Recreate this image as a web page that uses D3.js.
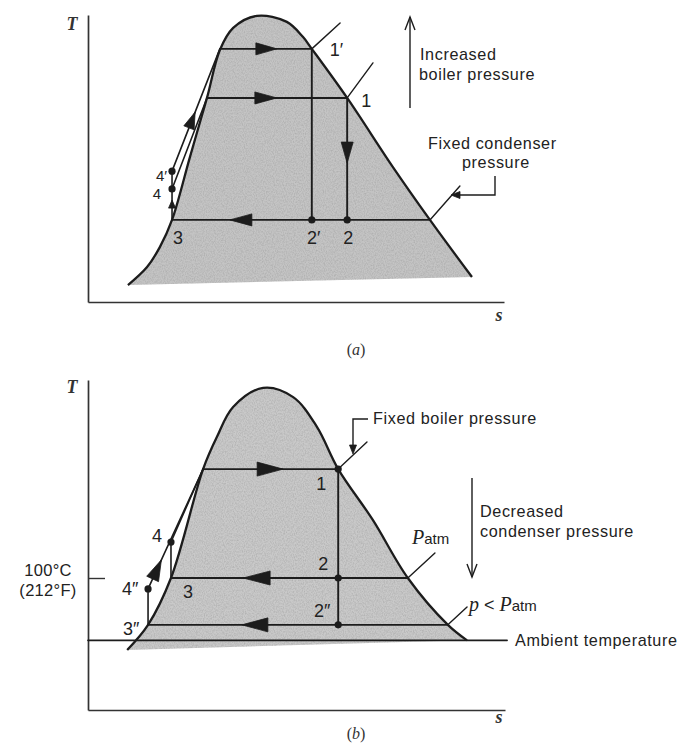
<!DOCTYPE html>
<html><head><meta charset="utf-8">
<script src="https://cdn.jsdelivr.net/npm/d3@7"></script>
<style>body{margin:0;background:#fff} svg{display:block}</style>
</head><body>
<svg id="c" width="691" height="745"></svg>
<script>
// ================= DATA =================
// Panel (a): saturation dome (entropy s, temperature T, arbitrary units 0-10)
const domeA_s = [0.96,1.42,1.73,2.02,2.45,2.86,3.17,3.49,4.06,4.78,5.17,5.38,6.23,7.33,8.22,9.23];
const domeA_T = [0.59,1.22,1.92,2.86,5.05,7.11,8.78,9.55,9.97,9.76,9.23,8.82,7.11,4.70,2.86,0.87];
// Panel (a) state values
const A_T = {cond: 2.86, boil: 7.11, boilHi: 8.82, p4: 3.94, p4p: 4.56};
const A_S = {s3: 2.02, s1: 6.23, s1p: 5.38, sf: 2.86, sfHi: 3.17, sgCond: 8.22};
// isobar continuations beyond the dome [s0,T0,s1,T1]
const A_iso = [[5.38,8.82,6.06,9.72],[6.23,7.11,6.85,8.33],[8.22,2.86,8.94,4.04]];

// Panel (b): saturation dome
const domeB_s = [0.94,1.44,1.99,2.76,3.09,3.48,4.20,4.92,5.49,6.00,6.83,7.67,8.63,9.09];
const domeB_T = [1.82,2.58,4.00,7.30,8.27,9.18,9.76,9.48,8.58,7.30,5.76,4.00,2.58,2.11];
const B_T = {boil: 7.30, atm: 4.00, low: 2.58, amb: 2.11, p4: 5.09, p4pp: 3.67};
const B_S = {s1: 6.00, sf: 2.76, s3: 1.99, s3pp: 1.44, sgAtm: 7.67, sgLow: 8.63};
const B_iso = [[6.00,7.30,6.69,8.12],[7.67,4.00,8.32,4.76],[8.63,2.58,9.09,3.12]];
const B_tickLabels = ["100\u00B0C","(212\u00B0F)"];

// ================= DRAW =================
const svg = d3.select("#c");
const INK = "#1c1c1c";
const SANS = "'Liberation Sans', Arial, sans-serif";
const SERIF = "'Liberation Serif', 'Times New Roman', serif";

const defs = svg.append("defs");
const f = defs.append("filter").attr("id","grain").attr("x",0).attr("y",0).attr("width",1).attr("height",1);
f.append("feTurbulence").attr("type","fractalNoise").attr("baseFrequency","0.9 0.6").attr("numOctaves",2).attr("seed",7).attr("result","n");
f.append("feColorMatrix").attr("in","n").attr("type","matrix")
  .attr("values","0 0 0 0 0.3  0 0 0 0 0.3  0 0 0 0 0.3  0.9 0 0 0 -0.33").attr("result","g");
f.append("feComposite").attr("in","g").attr("in2","SourceGraphic").attr("operator","in");

function arrowHead(g, tip, from, len, hw) {
  const dx = tip[0]-from[0], dy = tip[1]-from[1], L = Math.hypot(dx,dy);
  const ux = dx/L, uy = dy/L;
  const b = [tip[0]-ux*len, tip[1]-uy*len];
  const p1 = [b[0]-uy*hw, b[1]+ux*hw], p2 = [b[0]+uy*hw, b[1]-ux*hw];
  g.append("path").attr("d", `M${tip}L${p1}L${p2}Z`).attr("fill", INK).attr("stroke", INK).attr("stroke-width",0.8).attr("stroke-linejoin","round");
}
function openArrow(g, x, y1, y2) {
  g.append("line").attr("x1",x).attr("x2",x).attr("y1",y1).attr("y2",y2).attr("stroke",INK).attr("stroke-width",1.4);
  const d = y2 < y1 ? 1 : -1;
  g.append("path").attr("d",`M${x-5},${y2+d*13}L${x},${y2}L${x+5},${y2+d*13}`).attr("fill","none").attr("stroke",INK).attr("stroke-width",1.4);
}
function seg(g, x, y, a, b, w) {
  g.append("line").attr("x1",x(a[0])).attr("y1",y(a[1])).attr("x2",x(b[0])).attr("y2",y(b[1]))
   .attr("stroke",INK).attr("stroke-width",w||1.9).attr("stroke-linecap","round");
}
function dot(g, x, y, p, r) { g.append("circle").attr("cx",x(p[0])).attr("cy",y(p[1])).attr("r",r||3.6).attr("fill",INK); }
function label(g, px, py, txt, anchor, size, ls) {
  return g.append("text").attr("x",px).attr("y",py).attr("text-anchor",anchor||"middle")
    .attr("font-family",SANS).attr("font-size",size||18).attr("letter-spacing",ls||0).attr("fill","#222").text(txt);
}
function drawDome(g, x, y, ss, ts, fill) {
  const pts = ss.map((s,i)=>[s, ts[i]]);
  const line = d3.line().x(d=>x(d[0])).y(d=>y(d[1])).curve(d3.curveCatmullRom.alpha(0.5));
  g.append("path").attr("d", line(pts)+"Z").attr("fill", fill);
  g.append("path").attr("d", line(pts)+"Z").attr("fill", "#000").attr("filter","url(#grain)");
  g.append("path").attr("d", line(pts)).attr("fill","none").attr("stroke",INK).attr("stroke-width",2.3);
}
function axes(g, x, y) {
  const ax = g.append("g").attr("transform",`translate(0,${y(0)})`).call(d3.axisBottom(x).tickValues([]).tickSizeOuter(0));
  const ay = g.append("g").attr("transform",`translate(${x(0)},0)`).call(d3.axisLeft(y).tickValues([]).tickSizeOuter(0));
  [ax,ay].forEach(a=>a.select(".domain").attr("stroke","#333").attr("stroke-width",1.7));
  return ay;
}
function italic(g, px, py, t) {
  g.append("text").attr("x",px).attr("y",py).attr("text-anchor","middle").attr("font-family",SERIF)
   .attr("font-style","italic").attr("font-weight","bold").attr("font-size",18).attr("fill","#333").text(t);
}
const ANN = 16.2, ANN_LS = 0.6;

// ---------- Panel (a) ----------
{
  const x = d3.scaleLinear().domain([0,10]).range([88,504]);
  const y = d3.scaleLinear().domain([0,10]).range([302,15]);
  const g = svg.append("g");
  drawDome(g, x, y, domeA_s, domeA_T, "#c4c4c4");
  axes(g, x, y);
  italic(g, 72, 30, "T");
  italic(g, 499, 321, "s");

  const P1p = [A_S.s1p, A_T.boilHi], P1 = [A_S.s1, A_T.boil];
  const Fhi = [A_S.sfHi, A_T.boilHi], F = [A_S.sf, A_T.boil];
  const P3 = [A_S.s3, A_T.cond], G = [A_S.sgCond, A_T.cond];
  const P2 = [A_S.s1, A_T.cond], P2p = [A_S.s1p, A_T.cond];
  const P4 = [A_S.s3, A_T.p4], P4p = [A_S.s3, A_T.p4p];

  seg(g,x,y,Fhi,P1p); seg(g,x,y,F,P1); seg(g,x,y,G,P3);
  seg(g,x,y,P1p,P2p); seg(g,x,y,P1,P2);
  seg(g,x,y,P3,P4p,1.6); seg(g,x,y,P4,F,1.6); seg(g,x,y,P4p,Fhi,1.6);
  A_iso.forEach(d=>seg(g,x,y,[d[0],d[1]],[d[2],d[3]],1.4));

  arrowHead(g,[x(4.54),y(A_T.boilHi)],[x(3.5),y(A_T.boilHi)],21,6);
  arrowHead(g,[x(4.54),y(A_T.boil)],[x(3.5),y(A_T.boil)],22,6);
  arrowHead(g,[x(3.41),y(A_T.cond)],[x(5),y(A_T.cond)],22,6);
  arrowHead(g,[x(A_S.s1),y(4.84)],[x(A_S.s1),y(6)],21,6);
  {
    const t = (6.62-A_T.p4p)/(A_T.boilHi-A_T.p4p);
    const ts = A_S.s3 + t*(A_S.sfHi-A_S.s3);
    arrowHead(g,[x(ts),y(6.62)],[x(A_S.s3),y(A_T.p4p)],17,5.5);
  }
  arrowHead(g,[x(A_S.s3),y(3.55)],[x(A_S.s3),y(A_T.cond)],8,3.5);

  [P2p,P2,P4,P4p].forEach(p=>dot(g,x,y,p));

  label(g, x(A_S.s1p)+18, y(A_T.boilHi)+7, "1\u2032","start");
  label(g, x(A_S.s1)+14, y(A_T.boil)+9, "1","start");
  label(g, x(A_S.s1p)+2, y(A_T.cond)+24, "2\u2032");
  label(g, x(A_S.s1)+1, y(A_T.cond)+24, "2");
  label(g, x(A_S.s3)+6, y(A_T.cond)+24, "3");
  label(g, x(A_S.s3)-5, y(A_T.p4p)+10, "4\u2032","end",15);
  label(g, x(A_S.s3)-11, y(A_T.p4)+10, "4","end",15);

  openArrow(g, 410, 108, 17);
  label(g, 420, 60, "Increased","start",ANN,ANN_LS);
  label(g, 419, 79.5, "boiler pressure","start",ANN,ANN_LS);
  label(g, 428, 148.5, "Fixed condenser","start",ANN,ANN_LS);
  label(g, 462, 168, "pressure","start",ANN,ANN_LS);
  g.append("path").attr("d","M495,176V195H456").attr("fill","none").attr("stroke",INK).attr("stroke-width",1.4);
  arrowHead(g,[451,195],[470,195],9,3.5);

  g.append("text").attr("x",356).attr("y",355).attr("text-anchor","middle").attr("font-family",SERIF)
   .attr("font-size",16).attr("fill","#333")
   .html('(<tspan font-style="italic">a</tspan>)');
}

// ---------- Panel (b) ----------
{
  const x = d3.scaleLinear().domain([0,10]).range([88,505]);
  const y = d3.scaleLinear().domain([0,10]).range([710,380]);
  const g = svg.append("g");
  drawDome(g, x, y, domeB_s, domeB_T, "#c9c9c9");
  axes(g, x, y);
  g.append("g").attr("transform",`translate(${x(0)},0)`)
    .call(d3.axisLeft(y).tickValues([B_T.atm]).tickSize(-17).tickFormat(""))
    .call(s=>{s.select(".domain").remove(); s.selectAll("line").attr("stroke","#333").attr("stroke-width",1.4);});
  label(g, 48, y(B_T.atm)-2, B_tickLabels[0], "middle", 16.5, 0.3);
  label(g, 48, y(B_T.atm)+17.5, B_tickLabels[1], "middle", 16.5, 0.3);
  italic(g, 72, 393, "T");
  italic(g, 499, 723, "s");

  const P1 = [B_S.s1, B_T.boil], F = [B_S.sf, B_T.boil];
  const P2 = [B_S.s1, B_T.atm], P3 = [B_S.s3, B_T.atm], Ga = [B_S.sgAtm, B_T.atm];
  const P2pp = [B_S.s1, B_T.low], P3pp = [B_S.s3pp, B_T.low], Gl = [B_S.sgLow, B_T.low];
  const P4 = [B_S.s3, B_T.p4], P4pp = [B_S.s3pp, B_T.p4pp];

  seg(g,x,y,[0,B_T.amb],[10.05,B_T.amb],1.7);
  seg(g,x,y,F,P1); seg(g,x,y,Ga,P3); seg(g,x,y,Gl,P3pp);
  seg(g,x,y,P1,P2pp);
  seg(g,x,y,P3,P4,1.6); seg(g,x,y,P4,F,1.6);
  seg(g,x,y,P3pp,P4pp,1.6); seg(g,x,y,P4pp,F,1.6);
  B_iso.forEach(d=>seg(g,x,y,[d[0],d[1]],[d[2],d[3]],1.4));

  arrowHead(g,[x(4.68),y(B_T.boil)],[x(3.5),y(B_T.boil)],26,7);
  arrowHead(g,[x(3.72),y(B_T.atm)],[x(5),y(B_T.atm)],27,7);
  arrowHead(g,[x(3.69),y(B_T.low)],[x(5),y(B_T.low)],26,7);
  {
    const Tt = 4.55, t = (Tt-B_T.p4pp)/(B_T.boil-B_T.p4pp);
    const ts = B_S.s3pp + t*(B_S.sf-B_S.s3pp);
    arrowHead(g,[x(ts),y(Tt)],[x(B_S.s3pp),y(B_T.p4pp)],21,6.5);
  }
  [P1,P2,P2pp,P4,P4pp].forEach(p=>dot(g,x,y,p));

  label(g, x(B_S.s1)-17, y(B_T.boil)+21, "1");
  label(g, x(B_S.s1)-15, y(B_T.atm)-8, "2");
  label(g, x(B_S.s1)-16, y(B_T.low)-8, "2\u2033");
  label(g, x(B_S.s3)+17, y(B_T.atm)+20, "3");
  label(g, x(B_S.s3pp)-25, y(B_T.low)+10, "3\u2033","start");
  label(g, x(B_S.s3)-14, y(B_T.p4), "4");
  label(g, x(B_S.s3pp)-26, y(B_T.p4pp)+6, "4\u2033","start");

  label(g, 373, 424, "Fixed boiler pressure","start",ANN,ANN_LS);
  g.append("path").attr("d","M368,419H353V446").attr("fill","none").attr("stroke",INK).attr("stroke-width",1.4);
  arrowHead(g,[353,454],[353,440],9,3.5);

  openArrow(g, 472, 478, 577);
  label(g, 480, 516.5, "Decreased","start",ANN,ANN_LS);
  label(g, 480, 536.5, "condenser pressure","start",ANN,ANN_LS);

  const pat = g.append("text").attr("x",412).attr("y",544).attr("font-family",SANS).attr("font-size",18).attr("fill","#222");
  pat.append("tspan").attr("font-family",SERIF).attr("font-style","italic").attr("font-size",20).text("P");
  pat.append("tspan").attr("font-size",15).text("atm");

  const pl = g.append("text").attr("x",469).attr("y",611).attr("font-family",SANS).attr("font-size",18).attr("fill","#222");
  pl.append("tspan").attr("font-family",SERIF).attr("font-style","italic").attr("font-size",20).text("p");
  pl.append("tspan").text(" < ");
  pl.append("tspan").attr("font-family",SERIF).attr("font-style","italic").attr("font-size",20).text("P");
  pl.append("tspan").attr("font-size",15).text("atm");

  label(g, 515, 646, "Ambient temperature","start",ANN,ANN_LS);

  g.append("text").attr("x",356).attr("y",739).attr("text-anchor","middle").attr("font-family",SERIF)
   .attr("font-size",16).attr("fill","#333")
   .html('(<tspan font-style="italic">b</tspan>)');
}
</script>
</body></html>
